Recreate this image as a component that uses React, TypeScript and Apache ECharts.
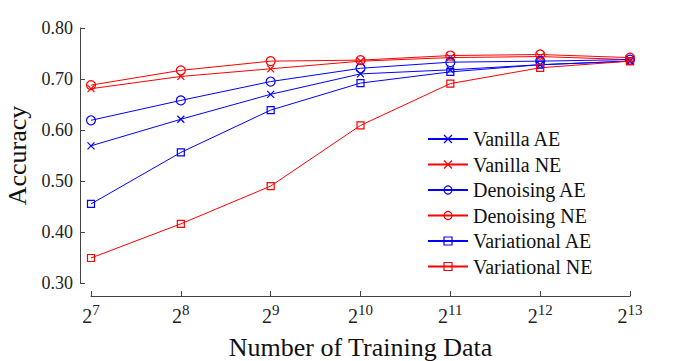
import React, { useEffect, useRef } from "react";
import * as echarts from "echarts";

const xExponents = [7, 8, 9, 10, 11, 12, 13];
const seriesNames = [
  "Vanilla AE",
  "Vanilla NE",
  "Denoising AE",
  "Denoising NE",
  "Variational AE",
  "Variational NE",
];
const vanillaAE = [0.569, 0.621, 0.670, 0.710, 0.718, 0.728, 0.735];
const vanillaNE = [0.681, 0.705, 0.720, 0.735, 0.742, 0.744, 0.738];
const denoisingAE = [0.619, 0.658, 0.695, 0.721, 0.733, 0.735, 0.738];
const denoisingNE = [0.688, 0.717, 0.735, 0.737, 0.746, 0.748, 0.742];
const variationalAE = [0.455, 0.556, 0.639, 0.692, 0.714, 0.728, 0.735];
const variationalNE = [0.349, 0.416, 0.490, 0.609, 0.691, 0.722, 0.735];

const BLUE = "#0000ff";
const RED = "#ff0000";
const CROSS = "path://M0,0L10,10M10,0L0,10";
const FONT = "Liberation Serif";

export default function App() {
  const ref = useRef<HTMLDivElement>(null);
  useEffect(() => {
    if (!ref.current) return;
    const chart = echarts.init(ref.current, null, { renderer: "svg" });
    const values = [vanillaAE, vanillaNE, denoisingAE, denoisingNE, variationalAE, variationalNE];
    const colors = [BLUE, RED, BLUE, RED, BLUE, RED];
    const symbols = [CROSS, CROSS, "circle", "circle", "rect", "rect"];
    const sizes = [7, 7, 9, 9, 7, 7];
    const series = seriesNames.map((name, i) => ({
      name,
      type: "line",
      color: colors[i],
      data: xExponents.map((x, j) => [x, values[i][j]]),
      symbol: symbols[i],
      symbolSize: sizes[i],
      showSymbol: true,
      lineStyle: { color: colors[i], width: 1 },
      itemStyle: { color: "rgba(0,0,0,0)", borderColor: colors[i], borderWidth: 1.2 },
      emphasis: { disabled: true },
    }));
    chart.setOption({
      animation: false,
      backgroundColor: "#fff",
      textStyle: { fontFamily: FONT },
      grid: { left: 91, right: 68, top: 28, bottom: 78, containLabel: false, outerBoundsMode: "none" },
      legend: {
        orient: "vertical",
        left: 427,
        top: 129,
        padding: 0,
        itemWidth: 40,
        itemHeight: 10,
        itemGap: 5.5,
        data: seriesNames,
        itemStyle: { color: "rgba(0,0,0,0)", borderWidth: 1.2 },
        textStyle: { fontFamily: FONT, fontSize: 20, lineHeight: 20, color: "#111" },
      },
      xAxis: {
        type: "value",
        min: 7,
        max: 13,
        interval: 1,
        offset: 13,
        name: "Number of Training Data",
        nameLocation: "middle",
        nameGap: 29,
        nameTextStyle: { fontFamily: FONT, fontSize: 26, color: "#111" },
        axisLine: { show: true, lineStyle: { color: "#444", width: 1 } },
        axisTick: { show: true, inside: true, length: 5, lineStyle: { color: "#444" } },
        splitLine: { show: false },
        axisLabel: {
          margin: 10,
          fontFamily: FONT,
          formatter: (v: number) => `{b|2}{s|${v}}`,
          rich: {
            b: { fontFamily: FONT, fontSize: 20, lineHeight: 20, color: "#222" },
            s: { fontFamily: FONT, fontSize: 15, lineHeight: 15, color: "#222", padding: [0, 0, 12, 0] },
          },
        },
      },
      yAxis: {
        type: "value",
        min: 0.3,
        max: 0.8,
        interval: 0.1,
        offset: 11,
        name: "Accuracy",
        nameLocation: "middle",
        nameGap: 39,
        nameTextStyle: { fontFamily: FONT, fontSize: 26, color: "#111" },
        axisLine: { show: true, lineStyle: { color: "#444", width: 1 } },
        axisTick: { show: true, inside: true, length: 5, lineStyle: { color: "#444" } },
        splitLine: { show: false },
        axisLabel: {
          margin: 7,
          fontFamily: FONT,
          fontSize: 18,
          color: "#222",
          formatter: (v: number) => v.toFixed(2),
        },
      },
      series,
    });
    return () => chart.dispose();
  }, []);
  return (
    <div
      ref={ref}
      style={{ position: "fixed", left: 0, top: 0, width: 698, height: 361 }}
    />
  );
}
